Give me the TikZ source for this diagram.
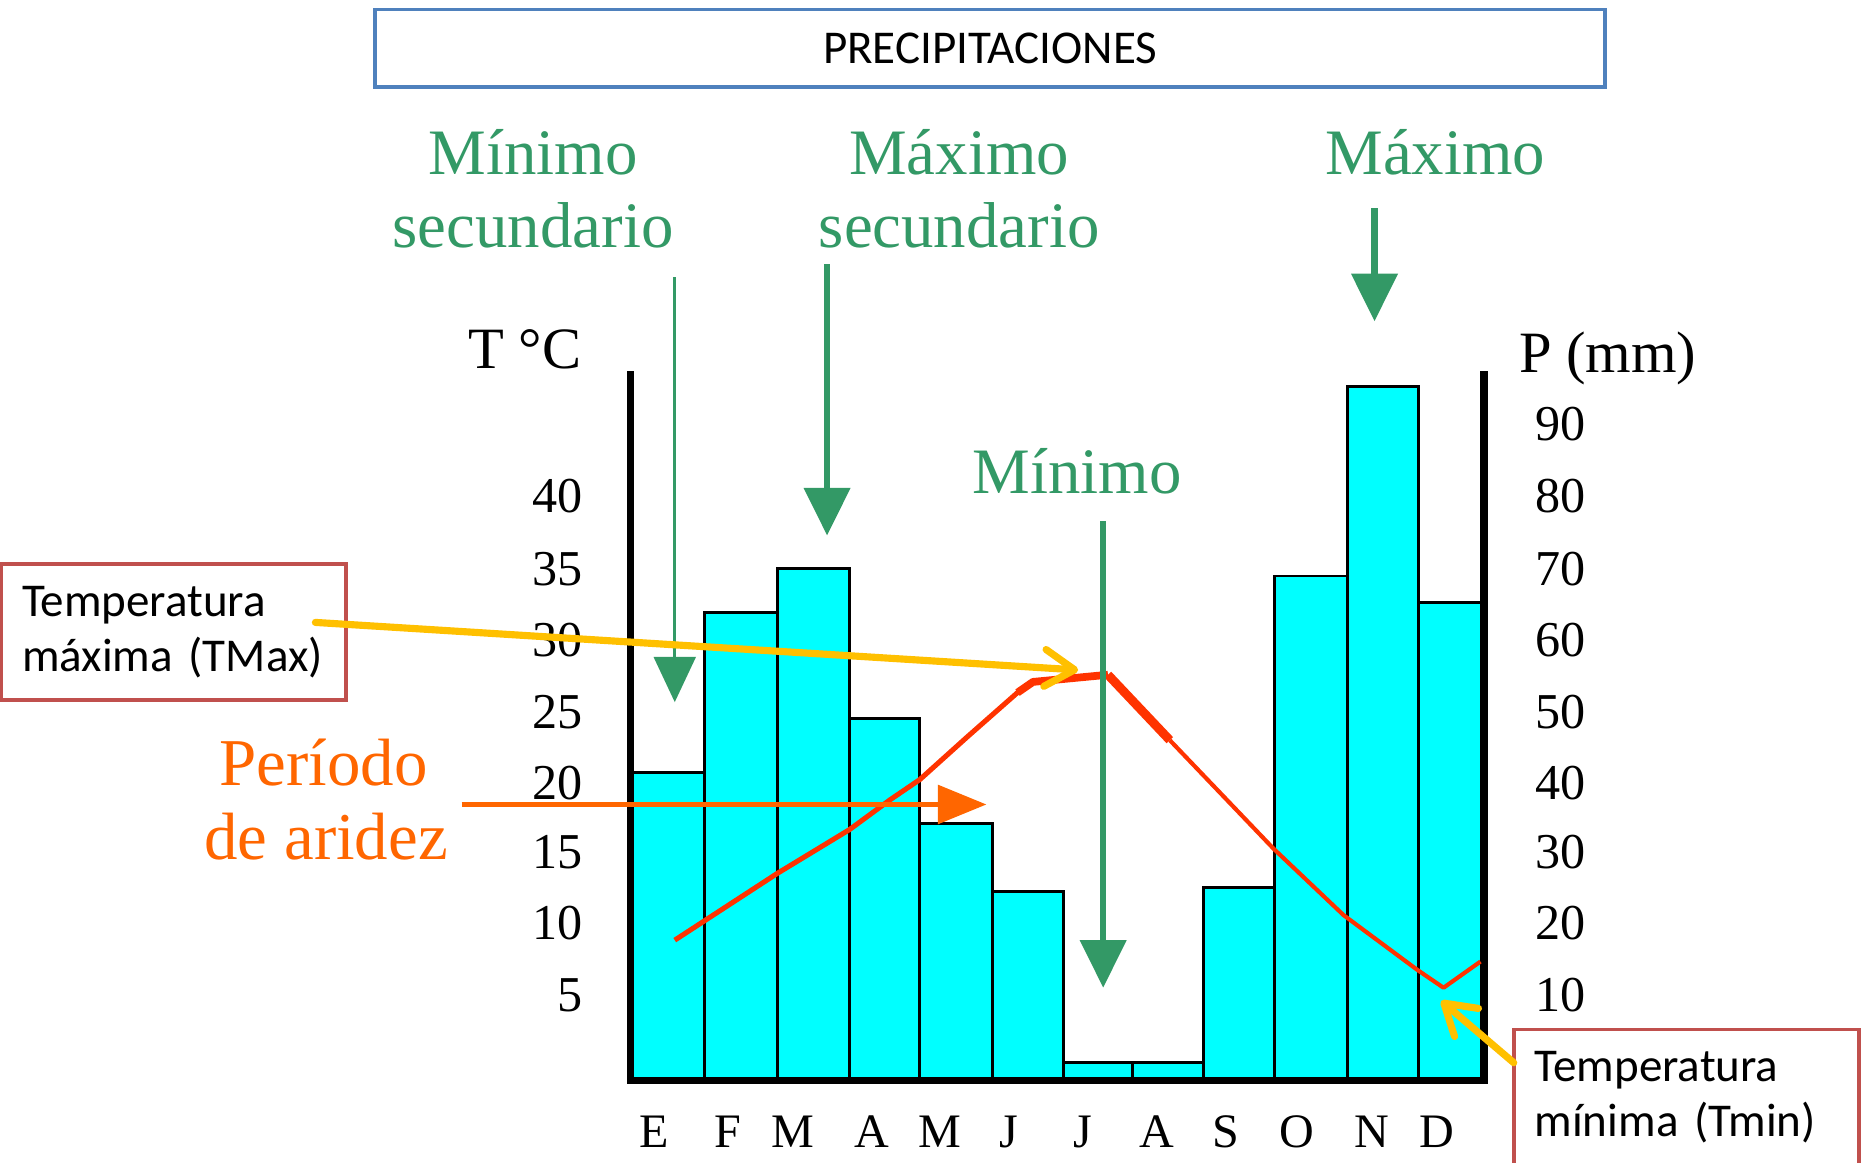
\documentclass[tikz,border=0pt]{standalone}
\usepackage{fontspec}
\setmainfont{Liberation Serif}
\newfontfamily\calib{Carlito}
\usetikzlibrary{arrows.meta}
\definecolor{grn}{HTML}{339966}
\definecolor{orng}{HTML}{FF6600}
\definecolor{redl}{HTML}{FF3300}
\definecolor{yel}{HTML}{FFC000}
\definecolor{cyanb}{HTML}{00FFFF}
\definecolor{bluebox}{HTML}{4F81BD}
\definecolor{redbox}{HTML}{C0504D}
\begin{document}
\begin{tikzpicture}[x=0.02cm,y=-0.02cm,
  greentxt/.style={text=grn, font=\fontsize{31}{36}\selectfont, anchor=base, inner sep=0pt},
  orangetxt/.style={text=orng, font=\fontsize{32}{37}\selectfont, anchor=base, inner sep=0pt},
  ticklab/.style={font=\fontsize{24}{28}\selectfont, inner sep=0pt},
  monthlab/.style={font=\fontsize{23}{27}\selectfont, inner sep=0pt, anchor=base},
  axislab/.style={font=\fontsize{28}{32}\selectfont, inner sep=0pt, anchor=base},
  bar/.style={draw=black, fill=cyanb, line width=0.05cm},
  axisline/.style={draw=black, line width=0.12cm, line join=miter},
  garrow/.style={draw=grn, line width=0.11cm, -{Triangle[length=0.8cm,width=0.76cm]}},
  garrowthin/.style={draw=grn, line width=0.055cm, -{Triangle[length=0.76cm,width=0.7cm]}},
  oarrow/.style={draw=orng, line width=0.1cm, -{Triangle[length=0.82cm,width=0.64cm]}},
  yarrow/.style={draw=yel, line width=0.12cm, line cap=round, -{Straight Barb[length=0.5cm,width=0.62cm,round]}},
  redline/.style={draw=redl, line join=round},
  infobox/.style={draw=redbox, line width=0.06cm, fill=white, minimum width=5.8cm, minimum height=2.28cm,
    text width=5.1cm, inner xsep=0.35cm, align=left, font=\calib\fontsize{22.5}{26.2}\selectfont},
  titlebox/.style={draw=bluebox, line width=0.06cm, minimum width=20.68cm, minimum height=1.3cm,
    font=\calib\fontsize{22.5}{27}\selectfont}
]
\useasboundingbox (0,0) rectangle (1568,977);
\fill[white] (0,0) rectangle (1568,977);

% title
\node[titlebox] (title) at (832,40.5) {PRECIPITACIONES};

% bars
\foreach \a/\b/\t in {530/592/649, 592/653/515, 653/714/478, 714/773/604, 773/834/692, 834/894/749, 894/952/893, 952/1011/893, 1011/1071/746, 1071/1132/484, 1132/1192/325, 1192/1248/506}
  \draw[bar] (\a,908) rectangle (\b,\t);

% axes
\draw[axisline] (530,312) -- (530,908) -- (1247,908) -- (1247,312);

% axis titles
\node[axislab] (tc) at (441,310) {T °C};
\node[axislab] (pmm) at (1351,313) {P (mm)};

% tick labels
\foreach \v/\y [count=\i] in {40/417,35/478,30/538,25/598,20/658,15/716,10/776,5/836}
  \node[ticklab, anchor=east] (tl\i) at (490,\y) {\v};
\foreach \v/\y [count=\i] in {90/356,80/417,70/478,60/538,50/598,40/658,30/716,20/776,10/836}
  \node[ticklab, anchor=west] (tr\i) at (1290,\y) {\v};

% month labels
\foreach \m/\x [count=\i] in {E/550,F/612,M/666,A/733,M/790,J/848,J/910,A/972,S/1030,O/1090,N/1153,D/1207}
  \node[monthlab] (m\i) at (\x,964) {\m};

% temperature line
\draw[redline, line width=0.085cm] (567,790) -- (653,734) -- (714,697) -- (748,672) -- (773,655) -- (813,619) -- (855,582) -- (868,573);
\draw[redline, line width=0.13cm] (855,582) -- (868,573) -- (931,567);
\draw[redline, line width=0.15cm] (931,567) -- (983,622);
\draw[redline, line width=0.07cm] (983,622) -- (1070,713) -- (1129,769) -- (1191,815) -- (1213,830) -- (1244,808);

% green labels
\node[greentxt] (minsec1) at (448,147) {Mínimo};
\node[greentxt] (minsec2) at (448,208) {secundario};
\node[greentxt] (maxsec1) at (806,147) {Máximo};
\node[greentxt] (maxsec2) at (806,208) {secundario};
\node[greentxt] (maxlab) at (1206,147) {Máximo};
\node[greentxt] (minlab) at (905,415) {Mínimo};

% green arrows
\coordinate (a1s) at (567,233); \coordinate (a1e) at (567,590);
\coordinate (a2s) at (695,222); \coordinate (a2e) at (695,450);
\coordinate (a3s) at (1155,175); \coordinate (a3e) at (1155,270);
\coordinate (a4s) at (927,438); \coordinate (a4e) at (927,830);
\draw[garrowthin] (a1s) -- (a1e);
\draw[garrow] (a2s) -- (a2e);
\draw[garrow] (a3s) -- (a3e);
\draw[garrow] (a4s) -- (a4e);

% aridity
\node[orangetxt] (per1) at (272,660) {Período};
\node[orangetxt] (per2) at (274,722) {de aridez};
\coordinate (os) at (388,676); \coordinate (oe) at (829,676);
\draw[oarrow] (os) -- (oe);

% info boxes
\node[infobox] (tmax) at (146,531) {Temperatura\\máxima (TMax)};
\node[infobox] (tmin) at (1417,922) {Temperatura\\mínima (Tmin)};

% yellow arrows
\coordinate (y1s) at (265,523); \coordinate (y1e) at (906,563);
\coordinate (y2s) at (1272,893); \coordinate (y2e) at (1211,841);
\draw[yarrow] (y1s) -- (y1e);
\draw[yarrow] (y2s) -- (y2e);
\end{tikzpicture}
\end{document}
